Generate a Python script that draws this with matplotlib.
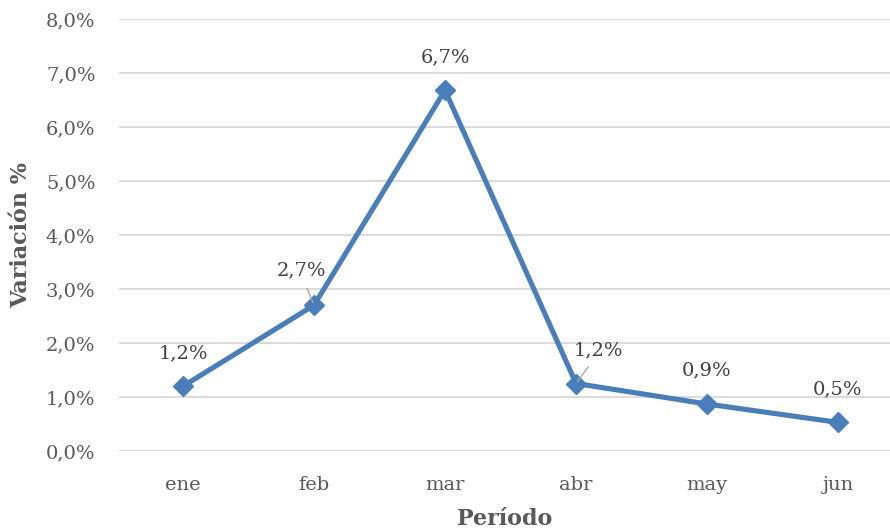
import matplotlib
matplotlib.use("Agg")
import matplotlib.pyplot as plt

months = ["ene", "feb", "mar", "abr", "may", "jun"]
values = [1.2, 2.7, 6.68, 1.25, 0.87, 0.53]
labels = ["1,2%", "2,7%", "6,7%", "1,2%", "0,9%", "0,5%"]
yticks = [0, 1, 2, 3, 4, 5, 6, 7, 8]
ytick_labels = ["0,0%", "1,0%", "2,0%", "3,0%", "4,0%", "5,0%", "6,0%", "7,0%", "8,0%"]

plt.rcParams['font.family'] = ['DejaVu Serif']

fig = plt.figure(figsize=(8.9, 5.31), dpi=100)
ax = fig.add_axes([119/890, 1-451/531, 1-119/890, (451-19)/531])

x = list(range(len(months)))
ax.plot(x, values, color="#4A7EBB", linewidth=3.7, marker="D", markersize=10,
        markerfacecolor="#4A7EBB", markeredgecolor="#4A7EBB", zorder=3)

ax.set_xlim(-0.489, 5.397)
ax.set_ylim(0, 8)
ax.set_yticks(yticks)
ax.set_yticklabels(ytick_labels)
ax.set_xticks(x)
ax.set_xticklabels(months)
ax.tick_params(axis='both', length=0, colors="#595959", labelsize=14)
ax.tick_params(axis='y', pad=17)
ax.tick_params(axis='x', pad=18)
ax.grid(axis='y', color="#D9D9D9", linewidth=1.3)
ax.set_axisbelow(True)
for s in ax.spines.values():
    s.set_visible(False)

# data labels (offsets in points)
offsets = [(0, 24), (-9, 25), (0, 24), (16, 24), (0, 24), (0, 24)]
leaders = [False, True, False, True, False, False]
for xi, v, lab, off, ld in zip(x, values, labels, offsets, leaders):
    ax.annotate(lab, (xi, v), xytext=off, textcoords="offset points",
                ha="center", va="center", fontsize=14, color="#404040", zorder=4)
    if ld:
        ax.annotate("", (xi, v), xytext=(off[0]*0.55, 12),
                    textcoords="offset points",
                    arrowprops=dict(arrowstyle="-", color="#A6A6A6", lw=1,
                                    shrinkA=0, shrinkB=2), zorder=4)

ax.set_ylabel("Variación %", fontsize=16, fontweight="bold", color="#595959", labelpad=10)
ax.set_xlabel("Período", fontsize=16, fontweight="bold", color="#595959", labelpad=10)

fig.savefig("out.png", dpi=100)
